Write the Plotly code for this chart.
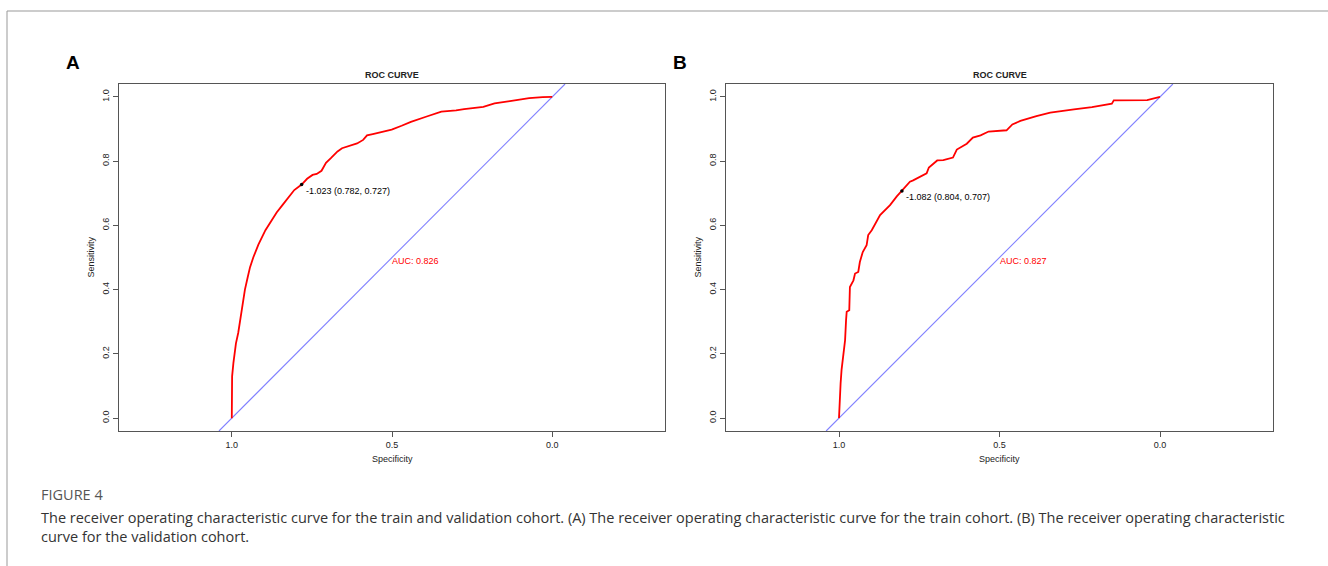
import plotly.graph_objects as go

# ---------------- data ----------------
spec_a = [1.000, 0.999, 0.995, 0.987, 0.980, 0.971, 0.959, 0.950, 0.943, 0.933, 0.917, 0.895,
          0.878, 0.860, 0.842, 0.820, 0.805, 0.782, 0.765, 0.748, 0.735, 0.720, 0.706, 0.690,
          0.670, 0.656, 0.630, 0.609, 0.590, 0.578, 0.560, 0.530, 0.501, 0.470, 0.441, 0.394,
          0.346, 0.300, 0.275, 0.215, 0.180, 0.132, 0.072, 0.030, 0.000]
sens_a = [0.000, 0.130, 0.171, 0.233, 0.265, 0.330, 0.400, 0.440, 0.470, 0.500, 0.540, 0.585,
          0.611, 0.640, 0.663, 0.690, 0.710, 0.727, 0.745, 0.757, 0.760, 0.770, 0.795, 0.810,
          0.830, 0.840, 0.848, 0.855, 0.866, 0.880, 0.884, 0.890, 0.898, 0.910, 0.922, 0.938,
          0.954, 0.958, 0.962, 0.969, 0.980, 0.987, 0.996, 0.999, 1.000]

spec_b = [1.000, 0.998, 0.995, 0.992, 0.987, 0.981, 0.978, 0.976, 0.968, 0.966, 0.955, 0.950,
          0.940, 0.935, 0.926, 0.914, 0.909, 0.898, 0.872, 0.841, 0.820, 0.804, 0.779, 0.769,
          0.727, 0.720, 0.706, 0.694, 0.675, 0.645, 0.633, 0.602, 0.583, 0.559, 0.534, 0.478,
          0.460, 0.435, 0.385, 0.342, 0.268, 0.212, 0.150, 0.144, 0.040, 0.020, 0.000]
sens_b = [0.000, 0.060, 0.108, 0.150, 0.200, 0.243, 0.305, 0.331, 0.336, 0.408, 0.429, 0.450,
          0.455, 0.486, 0.517, 0.538, 0.570, 0.585, 0.632, 0.663, 0.690, 0.707, 0.736, 0.740,
          0.762, 0.780, 0.791, 0.802, 0.803, 0.811, 0.836, 0.854, 0.873, 0.880, 0.892, 0.896,
          0.914, 0.925, 0.940, 0.951, 0.961, 0.968, 0.979, 0.989, 0.990, 0.995, 1.000]

best_a = {"threshold": -1.023, "spec": 0.782, "sens": 0.727}
best_b = {"threshold": -1.082, "spec": 0.804, "sens": 0.707}
auc_a = 0.826
auc_b = 0.827

x_ticks = [1.0, 0.5, 0.0]
y_ticks = [0.0, 0.2, 0.4, 0.6, 0.8, 1.0]
x_tick_labels = ["1.0", "0.5", "0.0"]
y_tick_labels = ["0.0", "0.2", "0.4", "0.6", "0.8", "1.0"]

X_RANGE = [1.352, -0.352]
Y_RANGE = [-0.04, 1.04]

caption_head = "FIGURE 4"
caption_body = ("The receiver operating characteristic curve for the train and validation cohort. "
                "(A) The receiver operating characteristic curve for the train cohort. "
                "(B) The receiver operating characteristic<br>curve for the validation cohort.")

# ---------------- layout helpers ----------------
W, H = 1328, 566
def px(x):
    return x / W
def py(y):
    return 1 - y / H

panels = [
    dict(x0=119, x1=665, label="A", spec=spec_a, sens=sens_a, best=best_a, auc=auc_a),
    dict(x0=726, x1=1273, label="B", spec=spec_b, sens=sens_b, best=best_b, auc=auc_b),
]
Y0, Y1 = 84, 431

FONT = "Liberation Sans, Arial, sans-serif"
CAPFONT = "Open Sans, sans-serif"
AXC = "#555555"

fig = go.Figure()
annotations = []
layout_axes = {}

def paper_text(text, x, y, size, color="#222", angle=0, xanchor="center", family=FONT):
    return dict(text=text, x=px(x), y=py(y), xref="paper", yref="paper", showarrow=False,
                xanchor=xanchor, yanchor="middle", textangle=angle, align="left",
                font=dict(family=family, size=size, color=color))

for i, p in enumerate(panels):
    n = "" if i == 0 else str(i + 1)
    xa, ya = "x" + n, "y" + n
    diag_sens = Y_RANGE
    diag_spec = [1 - s for s in diag_sens]
    fig.add_trace(go.Scatter(x=diag_spec, y=diag_sens, mode="lines", xaxis=xa, yaxis=ya,
                             line=dict(color="#8080ff", width=1.1), hoverinfo="skip", showlegend=False))
    fig.add_trace(go.Scatter(x=p["spec"], y=p["sens"], mode="lines", xaxis=xa, yaxis=ya,
                             line=dict(color="#ff0000", width=1.8), showlegend=False))
    fig.add_trace(go.Scatter(x=[p["best"]["spec"]], y=[p["best"]["sens"]], mode="markers",
                             xaxis=xa, yaxis=ya, marker=dict(color="black", size=3.5),
                             showlegend=False))
    layout_axes["xaxis" + n] = dict(
        domain=[px(p["x0"]), px(p["x1"])], range=X_RANGE, anchor=ya,
        tickvals=x_ticks, ticktext=x_tick_labels, ticks="outside", ticklen=5, tickwidth=1,
        tickcolor=AXC, showline=True, mirror=True, linecolor=AXC, linewidth=1,
        showgrid=False, zeroline=False, tickfont=dict(family=FONT, size=9, color="#222"),
    )
    layout_axes["yaxis" + n] = dict(
        domain=[py(Y1), py(Y0)], range=Y_RANGE, anchor=xa,
        tickvals=y_ticks, ticktext=y_tick_labels, ticks="outside", ticklen=5, tickwidth=1,
        tickcolor=AXC, showline=True, mirror=True, linecolor=AXC, linewidth=1,
        showgrid=False, zeroline=False, tickangle=-90,
        tickfont=dict(family=FONT, size=9, color="#222"),
    )
    cx = (p["x0"] + p["x1"]) / 2
    annotations.append(paper_text("<b>%s</b>" % p["label"], p["x0"] - 46, 62, 19, color="black"))
    annotations.append(paper_text("<b>ROC CURVE</b>", cx, 75, 9))
    annotations.append(paper_text("Specificity", cx, 459, 9))
    annotations.append(paper_text("Sensitivity", p["x0"] - 29, (Y0 + Y1) / 2, 9, angle=-90))
    b = p["best"]
    annotations.append(dict(text="%.3f (%.3f, %.3f)" % (b["threshold"], b["spec"], b["sens"]),
                            x=b["spec"], y=b["sens"], xref=xa, yref=ya, showarrow=False,
                            xanchor="left", yanchor="top", xshift=2, yshift=1,
                            font=dict(family=FONT, size=9, color="black")))
    annotations.append(dict(text="AUC: %.3f" % p["auc"], x=0.5, y=0.5, xref=xa, yref=ya,
                            showarrow=False, xanchor="left", yanchor="middle", xshift=-2, yshift=-3,
                            font=dict(family=FONT, size=9, color="#ff0000")))

annotations.append(paper_text(caption_head, 39, 494, 14.5, color="#555555", xanchor="left",
                              family=CAPFONT))
annotations.append(paper_text(caption_body, 39, 527, 14.5, color="#333333", xanchor="left",
                              family=CAPFONT))

shapes = [
    dict(type="line", xref="paper", yref="paper", x0=px(7), x1=1, y0=py(11), y1=py(11),
         line=dict(color="#999999", width=1)),
    dict(type="line", xref="paper", yref="paper", x0=px(7), x1=px(7), y0=py(11), y1=0,
         line=dict(color="#999999", width=1)),
]

fig.update_layout(
    width=W, height=H, margin=dict(l=0, r=0, t=0, b=0),
    paper_bgcolor="white", plot_bgcolor="white",
    annotations=annotations, shapes=shapes, showlegend=False,
    **layout_axes,
)

fig.write_html("out.html", config={"displayModeBar": False},
               post_script="document.body.style.margin='0';")
